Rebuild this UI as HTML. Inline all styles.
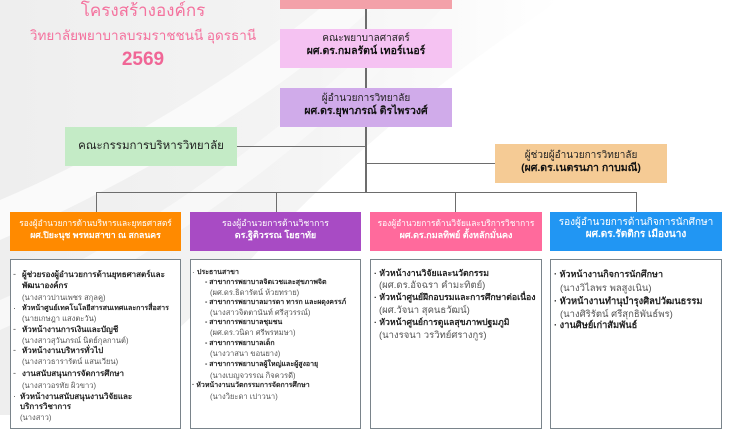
<!DOCTYPE html>
<html>
<head>
<meta charset="utf-8">
<style>
html,body{margin:0;padding:0;}
body{width:732px;height:415px;overflow:hidden;position:relative;background:#fff;font-family:"Liberation Sans","Noto Sans CJK SC",sans-serif;}
.abs{position:absolute;}
.box{position:absolute;box-sizing:border-box;text-align:center;white-space:nowrap;overflow:hidden;}
.ln{position:absolute;background:#6d6d6d;}
.t{position:absolute;white-space:nowrap;font-size:9px;line-height:11px;}
.b{font-weight:bold;color:#222;}
.n{color:#555;}
.list{position:absolute;box-sizing:border-box;background:#fff;border:1.5px solid #7a848b;overflow:hidden;}
</style>
</head>
<body>
<svg class="abs" style="left:0;top:0" width="732" height="415" viewBox="0 0 732 415">
  <defs>
    <linearGradient id="g1" x1="0" y1="0" x2="1" y2="0">
      <stop offset="0" stop-color="#eeeeee"/>
      <stop offset="0.55" stop-color="#f4f4f4"/>
      <stop offset="1" stop-color="#ffffff"/>
    </linearGradient>
  </defs>
  <rect x="0" y="0" width="732" height="415" fill="#fff"/>
  <path d="M0 0 L560 0 C470 60 360 140 250 260 C180 330 120 380 90 415 L0 415 Z" fill="url(#g1)"/>
  <path d="M0 200 C120 150 260 60 330 0 L380 0 C300 80 160 170 0 240 Z" fill="#fafafa"/>
  <path d="M0 300 C140 240 300 120 420 0 L450 0 C320 140 160 260 0 330 Z" fill="#f8f8f8"/>
</svg>

<!-- Title -->
<div class="abs" style="left:0;width:286px;top:0px;text-align:center;color:#f4729e;font-size:17px;line-height:22px;">โครงสร้างองค์กร</div>
<div class="abs" style="left:0;width:286px;top:27px;text-align:center;color:#f4729e;font-size:13.5px;line-height:18px;">วิทยาลัยพยาบาลบรมราชชนนี อุดรธานี</div>
<div class="abs" style="left:0;width:286px;top:50px;text-align:center;color:#f06696;font-size:19px;line-height:20px;font-weight:bold;">2569</div>

<!-- connectors -->
<div class="ln" style="left:365px;top:9px;width:1.5px;height:20px;"></div>
<div class="ln" style="left:365px;top:68px;width:1.5px;height:20px;"></div>
<div class="ln" style="left:365px;top:127px;width:1.5px;height:65px;"></div>
<div class="ln" style="left:237px;top:145.5px;width:129px;height:1.5px;"></div>
<div class="ln" style="left:366px;top:162.5px;width:129px;height:1.5px;"></div>
<div class="ln" style="left:95.5px;top:191.5px;width:541px;height:1.5px;"></div>
<div class="ln" style="left:95.5px;top:192px;width:1.5px;height:20px;"></div>
<div class="ln" style="left:275.5px;top:192px;width:1.5px;height:20px;"></div>
<div class="ln" style="left:454.5px;top:192px;width:1.5px;height:20px;"></div>
<div class="ln" style="left:635.5px;top:192px;width:1.5px;height:20px;"></div>

<!-- top boxes -->
<div class="box" style="left:280px;top:0;width:172px;height:9px;background:#f3a1a9;"></div>
<div class="box" style="left:280px;top:29px;width:172px;height:39px;background:#f5c2f2;">
  <div style="font-size:10px;line-height:12px;margin-top:4px;color:#222;">คณะพยาบาลศาสตร์</div>
  <div style="font-size:10.5px;line-height:13px;font-weight:bold;color:#111;">ผศ.ดร.กมลรัตน์ เทอร์เนอร์</div>
</div>
<div class="box" style="left:280px;top:88px;width:172px;height:39px;background:#d0abea;">
  <div style="font-size:10px;line-height:12px;margin-top:5px;color:#222;">ผู้อำนวยการวิทยาลัย</div>
  <div style="font-size:10.5px;line-height:13px;font-weight:bold;color:#111;">ผศ.ดร.ยุพาภรณ์ ติรไพรวงศ์</div>
</div>
<div class="box" style="left:65px;top:127px;width:172px;height:39px;background:#c4ebc6;">
  <div style="font-size:11.5px;line-height:16px;margin-top:11px;color:#222;">คณะกรรมการบริหารวิทยาลัย</div>
</div>
<div class="box" style="left:495px;top:144px;width:172px;height:39px;background:#f5cb95;">
  <div style="font-size:10px;line-height:12px;margin-top:6px;color:#222;">ผู้ช่วยผู้อำนวยการวิทยาลัย</div>
  <div style="font-size:10.5px;line-height:13px;font-weight:bold;color:#111;">(ผศ.ดร.เนตรนภา กาบมณี)</div>
</div>

<!-- deputy boxes -->
<div class="box" style="left:10px;top:212px;width:171px;height:39px;background:#ff8a00;color:#fff;">
  <div style="font-size:8.3px;line-height:12px;margin-top:5px;">รองผู้อำนวยการด้านบริหารและยุทธศาสตร์</div>
  <div style="font-size:8.7px;line-height:12px;font-weight:bold;">ผศ.ปิยะนุช พรหมสาขา ณ สกลนคร</div>
</div>
<div class="box" style="left:190px;top:212px;width:171px;height:39px;background:#a84bc4;color:#fff;">
  <div style="font-size:8.7px;line-height:12px;margin-top:5px;">รองผู้อำนวยการด้านวิชาการ</div>
  <div style="font-size:9px;line-height:12px;font-weight:bold;">ดร.ฐิติวรรณ โยธาทัย</div>
</div>
<div class="box" style="left:370px;top:212px;width:172px;height:39px;background:#ff6a9c;color:#fff;">
  <div style="font-size:8.4px;line-height:12px;margin-top:5px;">รองผู้อำนวยการด้านวิจัยและบริการวิชาการ</div>
  <div style="font-size:9px;line-height:12px;font-weight:bold;">ผศ.ดร.กมลทิพย์ ตั้งหลักมั่นคง</div>
</div>
<div class="box" style="left:550px;top:212px;width:172px;height:39px;background:#2196f3;color:#fff;">
  <div style="font-size:10px;line-height:12px;margin-top:5px;">รองผู้อำนวยการด้านกิจการนักศึกษา</div>
  <div style="font-size:10px;line-height:12px;font-weight:bold;">ผศ.ดร.รัตติกร เมืองนาง</div>
</div>

<!-- list boxes -->
<div class="list" style="left:10px;top:259px;width:171px;height:170px;"></div>
<div class="list" style="left:190px;top:259px;width:171px;height:170px;"></div>
<div class="list" style="left:370px;top:259px;width:172px;height:170px;"></div>
<div class="list" style="left:550px;top:259px;width:172px;height:170px;"></div>

<!-- left list -->
<div class="t n" style="left:13px;top:269px;">-</div>
<div class="t b" style="left:22px;top:269px;font-size:8px;">ผู้ช่วยรองผู้อำนวยการด้านยุทธศาสตร์และ</div>
<div class="t b" style="left:22px;top:280px;font-size:8px;">พัฒนาองค์กร</div>
<div class="t n" style="left:22px;top:292px;font-size:7.6px;">(นางสาวปานเพชร สกุลคู)</div>
<div class="t n" style="left:13px;top:303px;">·</div>
<div class="t b" style="left:22px;top:303px;font-size:7.1px;">หัวหน้าศูนย์เทคโนโลยีสารสนเทศและการสื่อสาร</div>
<div class="t n" style="left:22px;top:313px;font-size:7.6px;">(นายเกษฎา แสงตะวัน)</div>
<div class="t n" style="left:13px;top:324px;">-</div>
<div class="t b" style="left:22px;top:324px;font-size:8px;">หัวหน้างานการเงินและบัญชี</div>
<div class="t n" style="left:22px;top:335px;font-size:7.6px;">(นางสาวสุวันภรณ์ นิตย์กุลกานต์)</div>
<div class="t n" style="left:13px;top:345px;">-</div>
<div class="t b" style="left:22px;top:345px;font-size:8px;">หัวหน้างานบริหารทั่วไป</div>
<div class="t n" style="left:22px;top:356px;font-size:7.6px;">(นางสาวธารารัตน์ แสนเวียน)</div>
<div class="t n" style="left:13px;top:368px;">-</div>
<div class="t b" style="left:22px;top:368px;font-size:8px;">งานสนับสนุนการจัดการศึกษา</div>
<div class="t n" style="left:22px;top:380px;font-size:7.6px;">(นางสาวอรทัย ผิวขาว)</div>
<div class="t n" style="left:13px;top:391px;">·</div>
<div class="t b" style="left:20px;top:391px;font-size:8px;">หัวหน้างานสนับสนุนงานวิจัยและ</div>
<div class="t b" style="left:20px;top:401px;font-size:8px;">บริการวิชาการ</div>
<div class="t n" style="left:20px;top:412px;font-size:7.6px;">(นางสาว)</div>

<!-- purple list -->
<div class="t n" style="left:192px;top:266.5px;font-size:8px;">·</div>
<div class="t b" style="left:197px;top:266.5px;font-size:7px;">ประธานสาขา</div>
<div class="t b" style="left:205px;top:276.5px;font-size:7px;">- สาขาการพยาบาลจิตเวชและสุขภาพจิต</div>
<div class="t n" style="left:210px;top:286.5px;font-size:7.6px;">(ผศ.ดร.ธิดารัตน์ ห้วยทราย)</div>
<div class="t b" style="left:205px;top:296.5px;font-size:7px;">- สาขาการพยาบาลมารดา ทารก และผดุงครรภ์</div>
<div class="t n" style="left:210px;top:306.5px;font-size:7.6px;">(นางสาวจิตตานันท์ ศรีสุวรรณ์)</div>
<div class="t b" style="left:205px;top:316.5px;font-size:7px;">- สาขาการพยาบาลชุมชน</div>
<div class="t n" style="left:210px;top:326.5px;font-size:7.6px;">(ผศ.ดร.วนิดา ศรีพรหมษา)</div>
<div class="t b" style="left:205px;top:337.5px;font-size:7px;">- สาขาการพยาบาลเด็ก</div>
<div class="t n" style="left:210px;top:347.5px;font-size:7.6px;">(นางวาสนา ขอนยาง)</div>
<div class="t b" style="left:205px;top:358.5px;font-size:7px;">- สาขาการพยาบาลผู้ใหญ่และผู้สูงอายุ</div>
<div class="t n" style="left:210px;top:369.5px;font-size:7.6px;">(นางเบญจวรรณ กิจควรดี)</div>
<div class="t b" style="left:192px;top:379.5px;font-size:7px;">· หัวหน้างานนวัตกรรมการจัดการศึกษา</div>
<div class="t n" style="left:210px;top:390.5px;font-size:7.6px;">(นางวิยะดา เปาวนา)</div>

<!-- pink list -->
<div class="t b" style="left:374px;top:268px;font-size:8.7px;">· หัวหน้างานวิจัยและนวัตกรรม</div>
<div class="t n" style="left:379px;top:280px;font-size:9.5px;">(ผศ.ดร.อัจฉรา คำมะทิตย์)</div>
<div class="t b" style="left:374px;top:292px;font-size:8.7px;">· หัวหน้าศูนย์ฝึกอบรมและการศึกษาต่อเนื่อง</div>
<div class="t n" style="left:379px;top:305px;font-size:9.5px;">(ผศ.วัจนา สุคนธวัฒน์)</div>
<div class="t b" style="left:374px;top:317px;font-size:8.7px;">· หัวหน้าศูนย์การดูแลสุขภาพปฐมภูมิ</div>
<div class="t n" style="left:379px;top:330px;font-size:9.5px;">(นางรจนา วรวิทย์ศรางกูร)</div>

<!-- blue list -->
<div class="t b" style="left:554px;top:269px;font-size:9px;">· หัวหน้างานกิจการนักศึกษา</div>
<div class="t n" style="left:560px;top:283px;font-size:9.5px;">(นางวิไลพร พลสูงเนิน)</div>
<div class="t b" style="left:554px;top:296px;font-size:9.3px;">· หัวหน้างานทำนุบำรุงศิลปวัฒนธรรม</div>
<div class="t n" style="left:560px;top:309px;font-size:9.5px;">(นางศิริรัตน์ ศรีสุกธิพันธ์พร)</div>
<div class="t b" style="left:554px;top:320px;font-size:9.3px;">· งานศิษย์เก่าสัมพันธ์</div>
</body>
</html>
